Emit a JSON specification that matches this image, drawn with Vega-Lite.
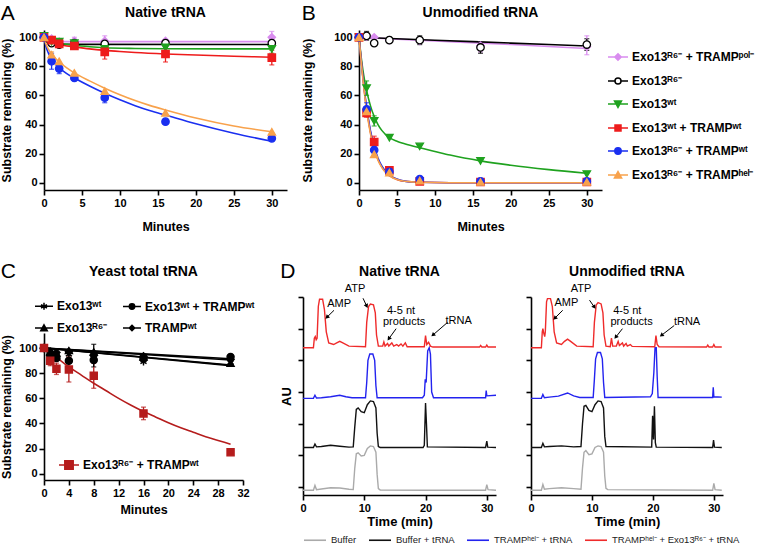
{
"$schema": "https://vega.github.io/schema/vega-lite/v6.json",
"background": "white",
"padding": {"left": 0, "top": 2, "right": 0, "bottom": 0},
"config": {
  "font": "Liberation Sans",
  "view": {"stroke": null},
  "axis": {"grid": false, "domainColor": "#000", "domainWidth": 1.6, "tickColor": "#000", "tickWidth": 1.6, "tickSize": 5, "labelColor": "#000", "labelFontWeight": "bold", "labelFontSize": 11, "labelFont": "Liberation Sans", "labelFlush": false, "labelPadding": 2, "titleFont": "Liberation Sans", "titleFontSize": 12.5, "titleFontWeight": "bold", "titleColor": "#000", "titlePadding": 5},
  "title": {"font": "Liberation Sans", "fontSize": 14, "fontWeight": "bold", "color": "#000"},
  "legend": {"labelFont": "Liberation Sans"}
},
"resolve": {"scale": {"color": "independent", "fill": "independent", "stroke": "independent", "shape": "independent"}},
"spacing": 28,
"vconcat": [
 {"hconcat": [
  {"title": {"text": "A", "anchor": "start", "fontSize": 21, "fontWeight": "normal", "offset": -18, "frame": "bounds"},
   "resolve": {"scale": {"color": "independent", "fill": "independent", "stroke": "independent", "shape": "independent"}},
   "vconcat": [{
    "width": 243, "height": 160,
    "title": {"text": "Native tRNA", "offset": 10},
    "encoding": {
      "x": {"field": "t", "type": "quantitative", "scale": {"domain": [0, 32], "nice": false}, "axis": {"values": [0,5,10,15,20,25,30], "title": "Minutes", "titlePadding": 12}},
      "y": {"field": "y", "type": "quantitative", "scale": {"domain": [-5, 105], "nice": false, "zero": false}, "axis": {"values": [0,20,40,60,80,100], "title": "Substrate remaining (%)"}}
    },
    "layer": [
     {"data": {"name": "aFit"}, "mark": {"type": "line", "strokeWidth": 1.6, "interpolate": "monotone"},
      "encoding": {"color": {"field": "s", "type": "nominal", "scale": {"domain": ["P","R","W","WT","RT","H"], "range": ["#d98cef","#000000","#1fa21f","#ee1c1c","#1a2ff0","#f8a24c"]}, "legend": null}}},
     {"data": {"name": "aErr"}, "mark": {"type": "errorbar", "ticks": true, "thickness": 1.3},
      "encoding": {"y": {"field": "lo", "type": "quantitative", "title": "Substrate remaining (%)"}, "y2": {"field": "hi"},
        "color": {"field": "s", "type": "nominal", "scale": {"domain": ["P","R","W","WT","RT","H"], "range": ["#d98cef","#000000","#1fa21f","#ee1c1c","#1a2ff0","#f8a24c"]}, "legend": null}}},
     {"data": {"name": "aPts"}, "mark": {"type": "point", "filled": true, "size": 55, "strokeWidth": 1.3, "opacity": 1},
      "encoding": {
        "fill": {"condition": [{"test": "datum.s=='P'", "value": "#d98cef"}, {"test": "datum.s=='R'", "value": "#ffffff"}, {"test": "datum.s=='W'", "value": "#1fa21f"}, {"test": "datum.s=='WT'", "value": "#ee1c1c"}, {"test": "datum.s=='RT'", "value": "#1a2ff0"}], "value": "#f8a24c"},
        "stroke": {"condition": [{"test": "datum.s=='P'", "value": "#d98cef"}, {"test": "datum.s=='R'", "value": "#000000"}, {"test": "datum.s=='W'", "value": "#1fa21f"}, {"test": "datum.s=='WT'", "value": "#ee1c1c"}, {"test": "datum.s=='RT'", "value": "#1a2ff0"}], "value": "#f8a24c"},
        "shape": {"condition": [{"test": "datum.s=='P'", "value": "diamond"}, {"test": "datum.s=='W'", "value": "triangle-down"}, {"test": "datum.s=='WT'", "value": "square"}, {"test": "datum.s=='H'", "value": "triangle-up"}], "value": "circle"}}}
    ]
   }]
  },
  {"title": {"text": "B", "anchor": "start", "fontSize": 21, "fontWeight": "normal", "offset": -18, "frame": "bounds"},
   "resolve": {"scale": {"color": "independent", "fill": "independent", "stroke": "independent", "shape": "independent"}},
   "vconcat": [{
    "width": 243, "height": 160,
    "title": {"text": "Unmodified tRNA", "offset": 10},
    "encoding": {
      "x": {"field": "t", "type": "quantitative", "scale": {"domain": [0, 32], "nice": false}, "axis": {"values": [0,5,10,15,20,25,30], "title": "Minutes", "titlePadding": 12}},
      "y": {"field": "y", "type": "quantitative", "scale": {"domain": [-5, 105], "nice": false, "zero": false}, "axis": {"values": [0,20,40,60,80,100], "title": "Substrate remaining (%)", "titlePadding": 19}}
    },
    "layer": [
     {"data": {"name": "bFit"}, "mark": {"type": "line", "strokeWidth": 1.6, "interpolate": "monotone"},
      "encoding": {"color": {"field": "s", "type": "nominal", "scale": {"domain": ["H","RT","WT","W","R","P"], "range": ["#f8a24c","#1a2ff0","#ee1c1c","#1fa21f","#000000","#d98cef"]}, "legend": null}}},
     {"data": {"name": "bErr"}, "mark": {"type": "errorbar", "ticks": true, "thickness": 1.3},
      "encoding": {"y": {"field": "lo", "type": "quantitative", "title": "Substrate remaining (%)"}, "y2": {"field": "hi"},
        "color": {"field": "s", "type": "nominal", "scale": {"domain": ["H","RT","WT","W","R","P"], "range": ["#f8a24c","#1a2ff0","#ee1c1c","#1fa21f","#000000","#d98cef"]}, "legend": null}}},
     {"data": {"name": "bPts"}, "mark": {"type": "point", "filled": true, "size": 55, "strokeWidth": 1.3, "opacity": 1},
      "encoding": {
        "fill": {"condition": [{"test": "datum.s=='P'", "value": "#d98cef"}, {"test": "datum.s=='R'", "value": "#ffffff"}, {"test": "datum.s=='W'", "value": "#1fa21f"}, {"test": "datum.s=='WT'", "value": "#ee1c1c"}, {"test": "datum.s=='RT'", "value": "#1a2ff0"}], "value": "#f8a24c"},
        "stroke": {"condition": [{"test": "datum.s=='P'", "value": "#d98cef"}, {"test": "datum.s=='R'", "value": "#000000"}, {"test": "datum.s=='W'", "value": "#1fa21f"}, {"test": "datum.s=='WT'", "value": "#ee1c1c"}, {"test": "datum.s=='RT'", "value": "#1a2ff0"}], "value": "#f8a24c"},
        "shape": {"condition": [{"test": "datum.s=='P'", "value": "diamond"}, {"test": "datum.s=='W'", "value": "triangle-down"}, {"test": "datum.s=='WT'", "value": "square"}, {"test": "datum.s=='H'", "value": "triangle-up"}], "value": "circle"}}},
     {"data": {"name": "bPts"}, "transform": [{"filter": "false"}], "mark": {"type": "point", "filled": true, "opacity": 1},
      "encoding": {
        "fill": {"field": "s", "type": "nominal", "scale": {"domain": ["P","R","W","WT","RT","H"], "range": ["#d98cef","#ffffff","#1fa21f","#ee1c1c","#1a2ff0","#f8a24c"]},
          "legend": {"title": null, "orient": "none", "legendX": 248, "legendY": 16, "symbolSize": 400, "symbolStrokeWidth": 1.5, "labelFontSize": 12, "labelFontWeight": "bold", "labelColor": "#000", "rowPadding": 6, "labelOffset": 3,
            "labelExpr": "datum.value=='P'?'Exo13ᴿ⁶⁻ + TRAMPᵖᵒˡ⁻':datum.value=='R'?'Exo13ᴿ⁶⁻':datum.value=='W'?'Exo13ʷᵗ':datum.value=='WT'?'Exo13ʷᵗ + TRAMPʷᵗ':datum.value=='RT'?'Exo13ᴿ⁶⁻ + TRAMPʷᵗ':'Exo13ᴿ⁶⁻ + TRAMPʰᵉˡ⁻'"}},
        "stroke": {"field": "s", "type": "nominal", "scale": {"domain": ["P","R","W","WT","RT","H"], "range": ["#d98cef","#000000","#1fa21f","#ee1c1c","#1a2ff0","#f8a24c"]},
          "legend": {"title": null, "orient": "none", "legendX": 248, "legendY": 16, "symbolSize": 400, "symbolStrokeWidth": 1.5, "labelFontSize": 12, "labelFontWeight": "bold", "labelColor": "#000", "rowPadding": 6, "labelOffset": 3,
            "labelExpr": "datum.value=='P'?'Exo13ᴿ⁶⁻ + TRAMPᵖᵒˡ⁻':datum.value=='R'?'Exo13ᴿ⁶⁻':datum.value=='W'?'Exo13ʷᵗ':datum.value=='WT'?'Exo13ʷᵗ + TRAMPʷᵗ':datum.value=='RT'?'Exo13ᴿ⁶⁻ + TRAMPʷᵗ':'Exo13ᴿ⁶⁻ + TRAMPʰᵉˡ⁻'"}},
        "shape": {"field": "s", "type": "nominal", "scale": {"domain": ["P","R","W","WT","RT","H"], "range": [
            "M-1,0H1M0,-0.32L0.32,0L0,0.32L-0.32,0Z",
            "M-1,0H-0.3M0.3,0H1M0.3,0A0.3,0.3 0 1 1 -0.3,0A0.3,0.3 0 1 1 0.3,0Z",
            "M-1,0H1M-0.35,-0.3L0.35,-0.3L0,0.35Z",
            "M-1,0H1M-0.3,-0.3H0.3V0.3H-0.3Z",
            "M-1,0H1M0.32,0A0.32,0.32 0 1 1 -0.32,0A0.32,0.32 0 1 1 0.32,0Z",
            "M-1,0H1M0,-0.35L0.36,0.3L-0.36,0.3Z"]},
          "legend": {"title": null, "orient": "none", "legendX": 248, "legendY": 16, "symbolSize": 400, "symbolStrokeWidth": 1.5, "labelFontSize": 12, "labelFontWeight": "bold", "labelColor": "#000", "rowPadding": 6, "labelOffset": 3,
            "labelExpr": "datum.value=='P'?'Exo13ᴿ⁶⁻ + TRAMPᵖᵒˡ⁻':datum.value=='R'?'Exo13ᴿ⁶⁻':datum.value=='W'?'Exo13ʷᵗ':datum.value=='WT'?'Exo13ʷᵗ + TRAMPʷᵗ':datum.value=='RT'?'Exo13ᴿ⁶⁻ + TRAMPʷᵗ':'Exo13ᴿ⁶⁻ + TRAMPʰᵉˡ⁻'"}}}}
    ]
   }]
  }
 ], "spacing": 14, "resolve": {"scale": {"color": "independent", "fill": "independent", "stroke": "independent", "shape": "independent"}}},
 {"concat": [
  {"title": {"text": "C", "anchor": "start", "fontSize": 21, "fontWeight": "normal", "offset": -18, "frame": "bounds"},
   "resolve": {"scale": {"color": "independent", "fill": "independent", "stroke": "independent", "shape": "independent"}},
   "spacing": 0,
   "vconcat": [
    {"width": 1, "height": 1, "data": {"values": []}, "mark": "point", "encoding": {}},
    {
    "width": 199, "height": 147,
    "title": {"text": "Yeast total tRNA", "offset": 17},
    "encoding": {
      "x": {"field": "t", "type": "quantitative", "scale": {"domain": [0, 32], "nice": false}, "axis": {"values": [0,4,8,12,16,20,24,28,32], "title": "Minutes", "titlePadding": 5}},
      "y": {"field": "y", "type": "quantitative", "scale": {"domain": [-5, 112], "nice": false, "zero": false}, "axis": {"values": [0,20,40,60,80,100], "title": "Substrate remaining (%)"}}
    },
    "layer": [
     {"data": {"name": "cFit"}, "transform": [{"filter": "datum.s != 'RT'"}], "mark": {"type": "line", "strokeWidth": 1.6, "color": "#000"}, "encoding": {"detail": {"field": "s"}}},
     {"data": {"name": "cFit"}, "transform": [{"filter": "datum.s == 'RT'"}], "mark": {"type": "line", "strokeWidth": 1.6, "color": "#b51c1c", "interpolate": "monotone"}},
     {"data": {"name": "cErr"}, "mark": {"type": "errorbar", "ticks": true, "thickness": 1.3},
      "encoding": {"y": {"field": "lo", "type": "quantitative", "title": "Substrate remaining (%)"}, "y2": {"field": "hi"},
        "color": {"field": "s", "type": "nominal", "scale": {"domain": ["W","WT","R","T","RT"], "range": ["#000","#000","#000","#000","#b51c1c"]}, "legend": null}}},
     {"data": {"name": "cPts"}, "mark": {"type": "point", "filled": true, "size": 50, "strokeWidth": 1.4, "opacity": 1},
      "encoding": {
        "fill": {"condition": {"test": "datum.s=='RT'", "value": "#b51c1c"}, "value": "#000"},
        "stroke": {"condition": {"test": "datum.s=='RT'", "value": "#b51c1c"}, "value": "#000"},
        "shape": {"condition": [{"test": "datum.s=='W'", "value": "M0,-1V1M-0.87,-0.5L0.87,0.5M-0.87,0.5L0.87,-0.5"}, {"test": "datum.s=='R'", "value": "triangle-up"}, {"test": "datum.s=='T'", "value": "diamond"}, {"test": "datum.s=='RT'", "value": "square"}], "value": "circle"}}},
     {"data": {"name": "cPts"}, "transform": [{"filter": "false"}], "mark": {"type": "point", "filled": true, "fill": "#000", "opacity": 1},
      "encoding": {
        "stroke": {"field": "s", "type": "nominal", "scale": {"domain": ["W","WT","R","T"], "range": ["#000","#000","#000","#000"]},
          "legend": {"title": null, "orient": "none", "legendX": -10, "legendY": -37, "columns": 2, "direction": "horizontal", "symbolSize": 324, "symbolStrokeWidth": 1.5, "labelFontSize": 12, "labelFontWeight": "bold", "labelColor": "#000", "rowPadding": 5, "columnPadding": 12, "labelOffset": 3,
          "labelExpr": "datum.value=='W'?'Exo13ʷᵗ':datum.value=='WT'?'Exo13ʷᵗ + TRAMPʷᵗ':datum.value=='R'?'Exo13ᴿ⁶⁻':'TRAMPʷᵗ'"}},
        "shape": {"field": "s", "type": "nominal", "scale": {"domain": ["W","WT","R","T"], "range": [
          "M-1,0H1M0,-0.38V0.38M-0.33,-0.19L0.33,0.19M-0.33,0.19L0.33,-0.19",
          "M-1,0H1M0.3,0A0.3,0.3 0 1 1 -0.3,0A0.3,0.3 0 1 1 0.3,0Z",
          "M-1,0H1M0,-0.35L0.36,0.3L-0.36,0.3Z",
          "M-1,0H1M0,-0.3L0.3,0L0,0.3L-0.3,0Z"]},
        "legend": {"title": null, "orient": "none", "legendX": -10, "legendY": -37, "columns": 2, "direction": "horizontal", "symbolSize": 324, "symbolStrokeWidth": 1.5, "labelFontSize": 12, "labelFontWeight": "bold", "labelColor": "#000", "rowPadding": 5, "columnPadding": 12, "labelOffset": 3,
          "labelExpr": "datum.value=='W'?'Exo13ʷᵗ':datum.value=='WT'?'Exo13ʷᵗ + TRAMPʷᵗ':datum.value=='R'?'Exo13ᴿ⁶⁻':'TRAMPʷᵗ'"}}}},
     {"data": {"name": "cPts"}, "transform": [{"filter": "false"}], "mark": {"type": "point", "filled": true, "stroke": "#b51c1c", "opacity": 1, "shape": "M-1,0H1M-0.42,-0.42H0.42V0.42H-0.42Z"},
      "encoding": {"fill": {"field": "s", "type": "nominal", "scale": {"domain": ["RT"], "range": ["#b51c1c"]},
        "legend": {"title": null, "orient": "none", "legendX": 14, "legendY": 121, "symbolType": "M-1,0H1M-0.42,-0.42H0.42V0.42H-0.42Z", "symbolSize": 400, "symbolStrokeWidth": 1.5, "symbolStrokeColor": "#b51c1c", "labelFontSize": 12, "labelFontWeight": "bold", "labelColor": "#000", "labelOffset": 3,
          "labelExpr": "'Exo13ᴿ⁶⁻ + TRAMPʷᵗ'"}}}}
    ]
   }]
  },
  {"title": {"text": "D", "anchor": "start", "fontSize": 21, "fontWeight": "normal", "offset": -18, "frame": "bounds"},
   "resolve": {"scale": {"color": "independent", "fill": "independent", "stroke": "independent", "shape": "independent"}},
   "spacing": 0,
   "vconcat": [
    {"width": 1, "height": 1, "data": {"values": []}, "mark": "point", "encoding": {}},
    {"hconcat": [
    {"width": 193, "height": 198,
     "title": {"text": "Native tRNA", "offset": 4},
     "layer": [
      {"data": {"name": "dN"}, "mark": {"type": "line", "strokeWidth": 1.4},
       "encoding": {
         "x": {"field": "t", "type": "quantitative", "scale": {"domain": [0, 31.5], "nice": false, "zero": false}, "axis": {"values": [0,10,20,30], "title": "Time (min)", "titleFontSize": 13, "titlePadding": 2}},
         "y": {"field": "v", "type": "quantitative", "scale": {"domain": [-0.25, 6], "nice": false, "zero": false}, "axis": {"values": [0,1,2,3,4,5,6], "labels": false, "title": "AU", "titleFontSize": 13, "titlePadding": 4}},
         "color": {"field": "s", "type": "nominal", "scale": {"domain": ["B","BT","TT","TE"], "range": ["#aaaaaa","#111111","#2323ef","#ef2b2b"]},
           "legend": {"title": null, "orient": "bottom", "direction": "horizontal", "symbolType": "stroke", "symbolSize": 484, "symbolStrokeWidth": 1.6, "labelFontSize": 9.5, "labelFontWeight": "normal", "labelColor": "#222", "columnPadding": 8, "labelOffset": 4, "offset": 0,
             "labelExpr": "datum.value=='B'?'Buffer':datum.value=='BT'?'Buffer + tRNA':datum.value=='TT'?'TRAMPʰᵉˡ⁻ + tRNA':'TRAMPʰᵉˡ⁻ + Exo13ᴿ⁶⁻ + tRNA'"}}}},
      {"data": {"name": "nN"}, "mark": {"type": "text", "fontSize": 11, "font": "Liberation Sans", "color": "#000"},
       "encoding": {
         "x": {"field": "t", "type": "quantitative", "scale": {"domain": [0, 31.5], "nice": false, "zero": false}, "axis": {"values": [0,10,20,30], "title": "Time (min)", "titleFontSize": 13, "titlePadding": 2}},
         "y": {"field": "v", "type": "quantitative", "scale": {"domain": [-0.25, 6], "nice": false, "zero": false}, "axis": {"values": [0,1,2,3,4,5,6], "labels": false, "title": "AU", "titleFontSize": 13, "titlePadding": 4}},
         "text": {"field": "label"}}},
      {"data": {"name": "rN"}, "mark": {"type": "rule", "strokeWidth": 1, "color": "#000"},
       "encoding": {
         "x": {"field": "t", "type": "quantitative", "scale": {"domain": [0, 31.5], "nice": false, "zero": false}, "axis": {"values": [0,10,20,30], "title": "Time (min)", "titleFontSize": 13, "titlePadding": 2}},
         "y": {"field": "v", "type": "quantitative", "scale": {"domain": [-0.25, 6], "nice": false, "zero": false}, "axis": {"values": [0,1,2,3,4,5,6], "labels": false, "title": "AU", "titleFontSize": 13, "titlePadding": 4}},
         "x2": {"field": "t2"}, "y2": {"field": "v2"}}},
      {"data": {"name": "rN"}, "transform": [{"calculate": "atan2((datum.t2-datum.t)*6.13,(datum.v2-datum.v)*31.7)*180/PI", "as": "ang"}],
       "mark": {"type": "point", "shape": "triangle-up", "filled": true, "size": 22, "color": "#000", "opacity": 1},
       "encoding": {
         "x": {"field": "t2", "type": "quantitative", "scale": {"domain": [0, 31.5], "nice": false, "zero": false}, "axis": {"values": [0,10,20,30], "title": "Time (min)", "titleFontSize": 13, "titlePadding": 2}},
         "y": {"field": "v2", "type": "quantitative", "scale": {"domain": [-0.25, 6], "nice": false, "zero": false}, "axis": {"values": [0,1,2,3,4,5,6], "labels": false, "title": "AU", "titleFontSize": 13, "titlePadding": 4}},
         "angle": {"field": "ang", "type": "quantitative", "scale": null}}}
     ]},
    {"width": 192, "height": 198,
     "title": {"text": "Unmodified tRNA", "offset": 4},
     "layer": [
      {"data": {"name": "dU"}, "mark": {"type": "line", "strokeWidth": 1.4},
       "encoding": {
         "x": {"field": "t", "type": "quantitative", "scale": {"domain": [0, 31.5], "nice": false, "zero": false}, "axis": {"values": [0,10,20,30], "title": "Time (min)", "titleFontSize": 13, "titlePadding": 2}},
         "y": {"field": "v", "type": "quantitative", "scale": {"domain": [-0.25, 6], "nice": false, "zero": false}, "axis": {"values": [0,1,2,3,4,5,6], "labels": false, "title": null}},
         "color": {"field": "s", "type": "nominal", "scale": {"domain": ["B","BT","TT","TE"], "range": ["#aaaaaa","#111111","#2323ef","#ef2b2b"]},
           "legend": {"title": null, "orient": "bottom", "direction": "horizontal", "symbolType": "stroke", "symbolSize": 484, "symbolStrokeWidth": 1.6, "labelFontSize": 9.5, "labelFontWeight": "normal", "labelColor": "#222", "columnPadding": 8, "labelOffset": 4, "offset": 0,
             "labelExpr": "datum.value=='B'?'Buffer':datum.value=='BT'?'Buffer + tRNA':datum.value=='TT'?'TRAMPʰᵉˡ⁻ + tRNA':'TRAMPʰᵉˡ⁻ + Exo13ᴿ⁶⁻ + tRNA'"}}}},
      {"data": {"name": "nU"}, "mark": {"type": "text", "fontSize": 11, "font": "Liberation Sans", "color": "#000"},
       "encoding": {
         "x": {"field": "t", "type": "quantitative", "scale": {"domain": [0, 31.5], "nice": false, "zero": false}, "axis": {"values": [0,10,20,30], "title": "Time (min)", "titleFontSize": 13, "titlePadding": 2}},
         "y": {"field": "v", "type": "quantitative", "scale": {"domain": [-0.25, 6], "nice": false, "zero": false}, "axis": {"values": [0,1,2,3,4,5,6], "labels": false, "title": null}},
         "text": {"field": "label"}}},
      {"data": {"name": "rU"}, "mark": {"type": "rule", "strokeWidth": 1, "color": "#000"},
       "encoding": {
         "x": {"field": "t", "type": "quantitative", "scale": {"domain": [0, 31.5], "nice": false, "zero": false}, "axis": {"values": [0,10,20,30], "title": "Time (min)", "titleFontSize": 13, "titlePadding": 2}},
         "y": {"field": "v", "type": "quantitative", "scale": {"domain": [-0.25, 6], "nice": false, "zero": false}, "axis": {"values": [0,1,2,3,4,5,6], "labels": false, "title": null}},
         "x2": {"field": "t2"}, "y2": {"field": "v2"}}},
      {"data": {"name": "rU"}, "transform": [{"calculate": "atan2((datum.t2-datum.t)*6.1,(datum.v2-datum.v)*31.7)*180/PI", "as": "ang"}],
       "mark": {"type": "point", "shape": "triangle-up", "filled": true, "size": 22, "color": "#000", "opacity": 1},
       "encoding": {
         "x": {"field": "t2", "type": "quantitative", "scale": {"domain": [0, 31.5], "nice": false, "zero": false}, "axis": {"values": [0,10,20,30], "title": "Time (min)", "titleFontSize": 13, "titlePadding": 2}},
         "y": {"field": "v2", "type": "quantitative", "scale": {"domain": [-0.25, 6], "nice": false, "zero": false}, "axis": {"values": [0,1,2,3,4,5,6], "labels": false, "title": null}},
         "angle": {"field": "ang", "type": "quantitative", "scale": null}}}
     ]}
   ], "spacing": 26}]
  }
 ], "columns": 2, "align": "none", "spacing": 25, "resolve": {"scale": {"color": "independent", "fill": "independent", "stroke": "independent", "shape": "independent"}}}
],
"datasets": {
 "aPts": [
  {"s":"P","t":0,"y":100},{"s":"P","t":1,"y":99},{"s":"P","t":2,"y":97},{"s":"P","t":4,"y":97.5},{"s":"P","t":8,"y":97.5},{"s":"P","t":16,"y":97.5},{"s":"P","t":30,"y":100},
  {"s":"R","t":0,"y":100},{"s":"R","t":1,"y":96},{"s":"R","t":2,"y":95},{"s":"R","t":4,"y":96},{"s":"R","t":8,"y":95.5},{"s":"R","t":16,"y":96},{"s":"R","t":30,"y":96},
  {"s":"W","t":0,"y":101},{"s":"W","t":1,"y":97},{"s":"W","t":2,"y":97},{"s":"W","t":4,"y":96},{"s":"W","t":8,"y":92},{"s":"W","t":16,"y":93},{"s":"W","t":30,"y":92},
  {"s":"WT","t":0,"y":100},{"s":"WT","t":1,"y":98},{"s":"WT","t":2,"y":95.5},{"s":"WT","t":4,"y":94},{"s":"WT","t":8,"y":90},{"s":"WT","t":16,"y":88.5},{"s":"WT","t":30,"y":86},
  {"s":"RT","t":0,"y":100},{"s":"RT","t":1,"y":83.5},{"s":"RT","t":2,"y":78.5},{"s":"RT","t":4,"y":72},{"s":"RT","t":8,"y":58.5},{"s":"RT","t":16,"y":42},{"s":"RT","t":30,"y":30.5},
  {"s":"H","t":0,"y":100},{"s":"H","t":1,"y":88},{"s":"H","t":2,"y":83.5},{"s":"H","t":4,"y":75.5},{"s":"H","t":8,"y":63},{"s":"H","t":16,"y":48},{"s":"H","t":30,"y":35}
 ],
 "aErr": [
  {"s":"P","t":4,"lo":95,"hi":100},{"s":"P","t":8,"lo":94,"hi":101},{"s":"P","t":30,"lo":96,"hi":104},
  {"s":"R","t":8,"lo":93,"hi":98},{"s":"R","t":30,"lo":93,"hi":99},
  {"s":"W","t":16,"lo":90,"hi":96},{"s":"W","t":30,"lo":89,"hi":95},
  {"s":"WT","t":8,"lo":85,"hi":95},{"s":"WT","t":16,"lo":83,"hi":93},{"s":"WT","t":30,"lo":81,"hi":91},
  {"s":"RT","t":1,"lo":78,"hi":89},{"s":"RT","t":2,"lo":75,"hi":82},{"s":"RT","t":8,"lo":55,"hi":62},
  {"s":"H","t":1,"lo":86,"hi":90}
 ],
 "aFit": [
  {"s":"P","t":0,"y":100},{"s":"P","t":0.3,"y":98.5},{"s":"P","t":0.6,"y":97.5},{"s":"P","t":1,"y":97},{"s":"P","t":30,"y":97},
  {"s":"R","t":0,"y":100},{"s":"R","t":0.3,"y":97},{"s":"R","t":0.6,"y":95.6},{"s":"R","t":1,"y":95.1},{"s":"R","t":30,"y":95},
  {"s":"W","t":0,"y":100},{"s":"W","t":0.5,"y":98.5},{"s":"W","t":1,"y":97.5},{"s":"W","t":2,"y":96},{"s":"W","t":4,"y":94.5},{"s":"W","t":6,"y":93.5},{"s":"W","t":8,"y":92.8},{"s":"W","t":12,"y":92.3},{"s":"W","t":16,"y":92.1},{"s":"W","t":30,"y":92},
  {"s":"WT","t":0,"y":100},{"s":"WT","t":0.5,"y":98},{"s":"WT","t":1,"y":96.6},{"s":"WT","t":2,"y":95},{"s":"WT","t":3,"y":94},{"s":"WT","t":4,"y":93.3},{"s":"WT","t":6,"y":92},{"s":"WT","t":8,"y":91},{"s":"WT","t":10,"y":90.2},{"s":"WT","t":12,"y":89.5},{"s":"WT","t":16,"y":88.5},{"s":"WT","t":20,"y":87.8},{"s":"WT","t":25,"y":87},{"s":"WT","t":30,"y":86.3},
  {"s":"RT","t":0,"y":100},{"s":"RT","t":0.25,"y":94},{"s":"RT","t":0.5,"y":90},{"s":"RT","t":1,"y":85},{"s":"RT","t":1.5,"y":81.5},{"s":"RT","t":2,"y":79},{"s":"RT","t":3,"y":75},{"s":"RT","t":4,"y":72},{"s":"RT","t":6,"y":66.5},{"s":"RT","t":8,"y":61.5},{"s":"RT","t":10,"y":57},{"s":"RT","t":12,"y":53},{"s":"RT","t":14,"y":49.5},{"s":"RT","t":16,"y":46.5},{"s":"RT","t":20,"y":40.5},{"s":"RT","t":25,"y":34},{"s":"RT","t":30,"y":28.5},
  {"s":"H","t":0,"y":100},{"s":"H","t":0.25,"y":95.5},{"s":"H","t":0.5,"y":92.5},{"s":"H","t":1,"y":88.5},{"s":"H","t":1.5,"y":85.5},{"s":"H","t":2,"y":83},{"s":"H","t":3,"y":79},{"s":"H","t":4,"y":75.5},{"s":"H","t":6,"y":70},{"s":"H","t":8,"y":65},{"s":"H","t":10,"y":60.5},{"s":"H","t":12,"y":56.5},{"s":"H","t":14,"y":53},{"s":"H","t":16,"y":50},{"s":"H","t":20,"y":44.5},{"s":"H","t":25,"y":39},{"s":"H","t":30,"y":35}
 ],
 "bPts": [
  {"s":"P","t":0,"y":100},{"s":"P","t":1,"y":100.5},{"s":"P","t":2,"y":100},{"s":"P","t":4,"y":98},{"s":"P","t":8,"y":97.5},{"s":"P","t":16,"y":94},{"s":"P","t":30,"y":93.5},
  {"s":"R","t":0,"y":100},{"s":"R","t":1,"y":101},{"s":"R","t":2,"y":96},{"s":"R","t":4,"y":98},{"s":"R","t":8,"y":98},{"s":"R","t":16,"y":93},{"s":"R","t":30,"y":95},
  {"s":"W","t":0,"y":100},{"s":"W","t":1,"y":65},{"s":"W","t":2,"y":42.5},{"s":"W","t":4,"y":31},{"s":"W","t":8,"y":25},{"s":"W","t":16,"y":15},{"s":"W","t":30,"y":6},
  {"s":"WT","t":0,"y":100},{"s":"WT","t":1,"y":48},{"s":"WT","t":2,"y":28},{"s":"WT","t":4,"y":8.5},{"s":"WT","t":8,"y":1},{"s":"WT","t":16,"y":0.5},{"s":"WT","t":30,"y":0.5},
  {"s":"RT","t":0,"y":100},{"s":"RT","t":1,"y":50.5},{"s":"RT","t":2,"y":22.5},{"s":"RT","t":4,"y":7.5},{"s":"RT","t":8,"y":2.5},{"s":"RT","t":16,"y":1},{"s":"RT","t":30,"y":1},
  {"s":"H","t":0,"y":100},{"s":"H","t":1,"y":49},{"s":"H","t":2,"y":19.5},{"s":"H","t":4,"y":7},{"s":"H","t":8,"y":1.5},{"s":"H","t":16,"y":0.5},{"s":"H","t":30,"y":0.5}
 ],
 "bErr": [
  {"s":"P","t":16,"lo":90,"hi":97},{"s":"P","t":30,"lo":88,"hi":101},
  {"s":"R","t":1,"lo":98,"hi":104},{"s":"R","t":4,"lo":96,"hi":100},{"s":"R","t":8,"lo":95,"hi":101},{"s":"R","t":16,"lo":89,"hi":97},{"s":"R","t":30,"lo":91,"hi":99},
  {"s":"W","t":1,"lo":60,"hi":70},{"s":"W","t":2,"lo":39,"hi":46},
  {"s":"WT","t":1,"lo":45,"hi":51},{"s":"WT","t":2,"lo":24,"hi":32},
  {"s":"RT","t":1,"lo":46,"hi":55},{"s":"RT","t":2,"lo":20,"hi":25},
  {"s":"H","t":1,"lo":46,"hi":52}
 ],
 "bFit": [
  {"s":"P","t":0,"y":100},{"s":"P","t":10,"y":97.5},{"s":"P","t":20,"y":95},{"s":"P","t":30,"y":92.3},
  {"s":"R","t":0,"y":100},{"s":"R","t":10,"y":98},{"s":"R","t":20,"y":96},{"s":"R","t":30,"y":94},
  {"s":"W","t":0,"y":100},{"s":"W","t":0.25,"y":88},{"s":"W","t":0.5,"y":78},{"s":"W","t":0.75,"y":70},{"s":"W","t":1,"y":63.5},{"s":"W","t":1.5,"y":53},{"s":"W","t":2,"y":45.5},{"s":"W","t":2.5,"y":40},{"s":"W","t":3,"y":36},{"s":"W","t":4,"y":31},{"s":"W","t":5,"y":28.5},{"s":"W","t":6,"y":26.8},{"s":"W","t":8,"y":24},{"s":"W","t":10,"y":21.5},{"s":"W","t":12,"y":19},{"s":"W","t":16,"y":15},{"s":"W","t":20,"y":12},{"s":"W","t":25,"y":9},{"s":"W","t":30,"y":6.5},
  {"s":"WT","t":0,"y":100},{"s":"WT","t":0.25,"y":86},{"s":"WT","t":0.5,"y":73},{"s":"WT","t":0.75,"y":61},{"s":"WT","t":1,"y":51},{"s":"WT","t":1.25,"y":42.5},{"s":"WT","t":1.5,"y":35},{"s":"WT","t":2,"y":24},{"s":"WT","t":2.5,"y":16},{"s":"WT","t":3,"y":11},{"s":"WT","t":3.5,"y":7.5},{"s":"WT","t":4,"y":5},{"s":"WT","t":5,"y":2.3},{"s":"WT","t":6,"y":1},{"s":"WT","t":8,"y":0.3},{"s":"WT","t":12,"y":0},{"s":"WT","t":30,"y":0},
  {"s":"RT","t":0,"y":100},{"s":"RT","t":0.25,"y":86.5},{"s":"RT","t":0.5,"y":73.5},{"s":"RT","t":0.75,"y":62},{"s":"RT","t":1,"y":52},{"s":"RT","t":1.25,"y":43.5},{"s":"RT","t":1.5,"y":36},{"s":"RT","t":2,"y":25},{"s":"RT","t":2.5,"y":17},{"s":"RT","t":3,"y":11.5},{"s":"RT","t":3.5,"y":7.8},{"s":"RT","t":4,"y":5.3},{"s":"RT","t":5,"y":2.5},{"s":"RT","t":6,"y":1.1},{"s":"RT","t":8,"y":0.3},{"s":"RT","t":12,"y":0},{"s":"RT","t":30,"y":0},
  {"s":"H","t":0,"y":100},{"s":"H","t":0.25,"y":85.5},{"s":"H","t":0.5,"y":72},{"s":"H","t":0.75,"y":60},{"s":"H","t":1,"y":50},{"s":"H","t":1.25,"y":41.5},{"s":"H","t":1.5,"y":34},{"s":"H","t":2,"y":23},{"s":"H","t":2.5,"y":15.5},{"s":"H","t":3,"y":10.5},{"s":"H","t":3.5,"y":7},{"s":"H","t":4,"y":4.8},{"s":"H","t":5,"y":2.2},{"s":"H","t":6,"y":1},{"s":"H","t":8,"y":0.3},{"s":"H","t":12,"y":0},{"s":"H","t":30,"y":0}
 ],
 "cPts": [
  {"s":"W","t":0,"y":100},{"s":"W","t":1,"y":95},{"s":"W","t":2,"y":94},{"s":"W","t":4,"y":95},{"s":"W","t":8,"y":92},{"s":"W","t":16,"y":89},{"s":"W","t":30,"y":88.5},
  {"s":"R","t":0,"y":100},{"s":"R","t":1,"y":97},{"s":"R","t":2,"y":96},{"s":"R","t":4,"y":98},{"s":"R","t":8,"y":97},{"s":"R","t":16,"y":93},{"s":"R","t":30,"y":88},
  {"s":"WT","t":0,"y":100},{"s":"WT","t":1,"y":94},{"s":"WT","t":2,"y":92},{"s":"WT","t":4,"y":90},{"s":"WT","t":8,"y":90.5},{"s":"WT","t":16,"y":91.5},{"s":"WT","t":30,"y":93},
  {"s":"T","t":0,"y":100},{"s":"T","t":1,"y":97},{"s":"T","t":2,"y":96.5},{"s":"T","t":4,"y":97},{"s":"T","t":8,"y":94},{"s":"T","t":16,"y":93.5},{"s":"T","t":30,"y":91},
  {"s":"RT","t":0,"y":100},{"s":"RT","t":1,"y":90},{"s":"RT","t":2,"y":83.5},{"s":"RT","t":4,"y":83},{"s":"RT","t":8,"y":78},{"s":"RT","t":16,"y":48},{"s":"RT","t":30,"y":17}
 ],
 "cErr": [
  {"s":"RT","t":1,"lo":86,"hi":94},{"s":"RT","t":2,"lo":79,"hi":88},{"s":"RT","t":4,"lo":73,"hi":93},{"s":"RT","t":8,"lo":68,"hi":88},{"s":"RT","t":16,"lo":43,"hi":53},
  {"s":"T","t":8,"lo":85,"hi":103},{"s":"W","t":1,"lo":93,"hi":97},{"s":"R","t":30,"lo":86,"hi":89}
 ],
 "cFit": [
  {"s":"W","t":0,"y":100},{"s":"W","t":30,"y":86.5},
  {"s":"R","t":0,"y":100},{"s":"R","t":30,"y":86},
  {"s":"WT","t":0,"y":100},{"s":"WT","t":30,"y":90.5},
  {"s":"T","t":0,"y":100},{"s":"T","t":30,"y":91.5},
  {"s":"RT","t":0,"y":100},{"s":"RT","t":2,"y":92.5},{"s":"RT","t":4,"y":85},{"s":"RT","t":6,"y":78.5},{"s":"RT","t":8,"y":72},{"s":"RT","t":10,"y":66},{"s":"RT","t":12,"y":60},{"s":"RT","t":14,"y":54.5},{"s":"RT","t":16,"y":49.5},{"s":"RT","t":18,"y":45},{"s":"RT","t":20,"y":40.5},{"s":"RT","t":22,"y":36.5},{"s":"RT","t":24,"y":33},{"s":"RT","t":26,"y":29.5},{"s":"RT","t":28,"y":26.5},{"s":"RT","t":30,"y":23.5}
 ],
 "dN": [
  {"s":"B","t":0,"v":-0.1},{"s":"B","t":1.7,"v":-0.1},{"s":"B","t":1.95,"v":0.05},{"s":"B","t":2.2,"v":-0.08},{"s":"B","t":3,"v":-0.06},{"s":"B","t":4.5,"v":-0.02},{"s":"B","t":6,"v":-0.03},{"s":"B","t":7.5,"v":-0.07},{"s":"B","t":8.2,"v":-0.08},{"s":"B","t":8.45,"v":0.6},{"s":"B","t":8.7,"v":1.05},{"s":"B","t":9,"v":1.08},{"s":"B","t":9.5,"v":0.98},{"s":"B","t":10,"v":1},{"s":"B","t":10.5,"v":1.22},{"s":"B","t":11,"v":1.3},{"s":"B","t":11.5,"v":1.28},{"s":"B","t":11.9,"v":1.1},{"s":"B","t":12.1,"v":0.4},{"s":"B","t":12.3,"v":-0.05},{"s":"B","t":12.6,"v":-0.09},{"s":"B","t":20,"v":-0.1},{"s":"B","t":29.8,"v":-0.1},{"s":"B","t":30,"v":0.08},{"s":"B","t":30.2,"v":-0.08},{"s":"B","t":31.5,"v":-0.1},
  {"s":"BT","t":0,"v":1.25},{"s":"BT","t":1.7,"v":1.25},{"s":"BT","t":1.95,"v":1.36},{"s":"BT","t":2.2,"v":1.27},{"s":"BT","t":3,"v":1.28},{"s":"BT","t":4.5,"v":1.32},{"s":"BT","t":6,"v":1.29},{"s":"BT","t":7.5,"v":1.26},{"s":"BT","t":8.2,"v":1.27},{"s":"BT","t":8.45,"v":1.9},{"s":"BT","t":8.7,"v":2.45},{"s":"BT","t":9,"v":2.5},{"s":"BT","t":9.5,"v":2.38},{"s":"BT","t":10,"v":2.35},{"s":"BT","t":10.5,"v":2.6},{"s":"BT","t":11,"v":2.72},{"s":"BT","t":11.5,"v":2.7},{"s":"BT","t":11.9,"v":2.5},{"s":"BT","t":12.1,"v":1.7},{"s":"BT","t":12.3,"v":1.28},{"s":"BT","t":12.6,"v":1.25},{"s":"BT","t":19.6,"v":1.25},{"s":"BT","t":19.8,"v":1.32},{"s":"BT","t":20,"v":2.65},{"s":"BT","t":20.15,"v":2.0},{"s":"BT","t":20.3,"v":1.27},{"s":"BT","t":29.8,"v":1.25},{"s":"BT","t":30,"v":1.45},{"s":"BT","t":30.15,"v":1.26},{"s":"BT","t":31.5,"v":1.25},
  {"s":"TT","t":0,"v":2.8},{"s":"TT","t":1.7,"v":2.8},{"s":"TT","t":1.95,"v":2.9},{"s":"TT","t":2.2,"v":2.81},{"s":"TT","t":3,"v":2.82},{"s":"TT","t":4.5,"v":2.85},{"s":"TT","t":6,"v":2.9},{"s":"TT","t":7,"v":2.85},{"s":"TT","t":8,"v":2.82},{"s":"TT","t":10.2,"v":2.82},{"s":"TT","t":10.4,"v":3.3},{"s":"TT","t":10.6,"v":4.0},{"s":"TT","t":10.9,"v":4.2},{"s":"TT","t":11.4,"v":4.2},{"s":"TT","t":11.7,"v":4.0},{"s":"TT","t":11.9,"v":3.2},{"s":"TT","t":12.1,"v":2.82},{"s":"TT","t":19.5,"v":2.82},{"s":"TT","t":19.8,"v":2.9},{"s":"TT","t":19.95,"v":3.4},{"s":"TT","t":20.1,"v":3.3},{"s":"TT","t":20.35,"v":4.3},{"s":"TT","t":20.6,"v":4.4},{"s":"TT","t":20.8,"v":4.2},{"s":"TT","t":21,"v":3.0},{"s":"TT","t":21.3,"v":2.82},{"s":"TT","t":29.8,"v":2.82},{"s":"TT","t":29.9,"v":3.05},{"s":"TT","t":30,"v":2.88},{"s":"TT","t":31.5,"v":2.9},
  {"s":"TE","t":0,"v":4.4},{"s":"TE","t":1.7,"v":4.4},{"s":"TE","t":1.85,"v":4.7},{"s":"TE","t":2,"v":4.75},{"s":"TE","t":2.15,"v":4.65},{"s":"TE","t":2.3,"v":4.7},{"s":"TE","t":2.5,"v":5.7},{"s":"TE","t":2.7,"v":5.93},{"s":"TE","t":3.2,"v":5.93},{"s":"TE","t":3.5,"v":5.6},{"s":"TE","t":3.8,"v":4.9},{"s":"TE","t":4.2,"v":4.55},{"s":"TE","t":5,"v":4.5},{"s":"TE","t":5.5,"v":4.55},{"s":"TE","t":6,"v":4.6},{"s":"TE","t":6.5,"v":4.55},{"s":"TE","t":7.5,"v":4.45},{"s":"TE","t":10.2,"v":4.43},{"s":"TE","t":10.4,"v":5.2},{"s":"TE","t":10.7,"v":5.7},{"s":"TE","t":11,"v":5.78},{"s":"TE","t":11.5,"v":5.75},{"s":"TE","t":11.8,"v":5.5},{"s":"TE","t":12,"v":4.8},{"s":"TE","t":12.3,"v":4.45},{"s":"TE","t":13,"v":4.45},{"s":"TE","t":13.2,"v":4.58},{"s":"TE","t":13.4,"v":4.45},{"s":"TE","t":13.8,"v":4.53},{"s":"TE","t":14,"v":4.45},{"s":"TE","t":14.5,"v":4.55},{"s":"TE","t":14.8,"v":4.45},{"s":"TE","t":15.3,"v":4.5},{"s":"TE","t":15.6,"v":4.45},{"s":"TE","t":16,"v":4.52},{"s":"TE","t":16.3,"v":4.45},{"s":"TE","t":16.7,"v":4.55},{"s":"TE","t":17,"v":4.43},{"s":"TE","t":19.8,"v":4.43},{"s":"TE","t":20,"v":4.78},{"s":"TE","t":20.2,"v":4.5},{"s":"TE","t":20.5,"v":4.57},{"s":"TE","t":20.8,"v":4.45},{"s":"TE","t":21.2,"v":4.42},{"s":"TE","t":28.8,"v":4.42},{"s":"TE","t":29,"v":4.47},{"s":"TE","t":29.2,"v":4.42},{"s":"TE","t":29.8,"v":4.42},{"s":"TE","t":30,"v":4.48},{"s":"TE","t":30.2,"v":4.42},{"s":"TE","t":31.5,"v":4.42}
 ],
 "dU": [
  {"s":"B","t":0,"v":-0.1},{"s":"B","t":1.7,"v":-0.1},{"s":"B","t":1.95,"v":0.08},{"s":"B","t":2.2,"v":-0.07},{"s":"B","t":3,"v":-0.05},{"s":"B","t":5,"v":-0.02},{"s":"B","t":7,"v":-0.05},{"s":"B","t":8.2,"v":-0.07},{"s":"B","t":8.45,"v":0.6},{"s":"B","t":8.7,"v":1.1},{"s":"B","t":9,"v":1.15},{"s":"B","t":9.5,"v":1.02},{"s":"B","t":10,"v":1.05},{"s":"B","t":10.5,"v":1.25},{"s":"B","t":11,"v":1.3},{"s":"B","t":11.5,"v":1.28},{"s":"B","t":11.9,"v":1.1},{"s":"B","t":12.1,"v":0.35},{"s":"B","t":12.3,"v":-0.04},{"s":"B","t":12.6,"v":-0.08},{"s":"B","t":29.8,"v":-0.1},{"s":"B","t":30,"v":0.12},{"s":"B","t":30.2,"v":-0.08},{"s":"B","t":31.3,"v":-0.1},
  {"s":"BT","t":0,"v":1.25},{"s":"BT","t":1.7,"v":1.25},{"s":"BT","t":1.95,"v":1.38},{"s":"BT","t":2.2,"v":1.27},{"s":"BT","t":3,"v":1.28},{"s":"BT","t":5,"v":1.3},{"s":"BT","t":7,"v":1.27},{"s":"BT","t":8.2,"v":1.28},{"s":"BT","t":8.45,"v":2.0},{"s":"BT","t":8.7,"v":2.55},{"s":"BT","t":9,"v":2.58},{"s":"BT","t":9.5,"v":2.42},{"s":"BT","t":10,"v":2.38},{"s":"BT","t":10.5,"v":2.6},{"s":"BT","t":11,"v":2.72},{"s":"BT","t":11.5,"v":2.7},{"s":"BT","t":11.9,"v":2.5},{"s":"BT","t":12.1,"v":1.6},{"s":"BT","t":12.3,"v":1.28},{"s":"BT","t":19.8,"v":1.26},{"s":"BT","t":19.95,"v":2.25},{"s":"BT","t":20.1,"v":1.5},{"s":"BT","t":20.25,"v":2.55},{"s":"BT","t":20.4,"v":1.4},{"s":"BT","t":20.55,"v":1.26},{"s":"BT","t":29.8,"v":1.25},{"s":"BT","t":29.95,"v":1.48},{"s":"BT","t":30.1,"v":1.26},{"s":"BT","t":31.3,"v":1.25},
  {"s":"TT","t":0,"v":2.8},{"s":"TT","t":1.7,"v":2.8},{"s":"TT","t":1.95,"v":2.92},{"s":"TT","t":2.2,"v":2.82},{"s":"TT","t":3,"v":2.84},{"s":"TT","t":4.5,"v":2.87},{"s":"TT","t":6,"v":2.97},{"s":"TT","t":7,"v":2.88},{"s":"TT","t":8,"v":2.83},{"s":"TT","t":10.2,"v":2.83},{"s":"TT","t":10.4,"v":3.4},{"s":"TT","t":10.6,"v":4.05},{"s":"TT","t":10.9,"v":4.25},{"s":"TT","t":11.4,"v":4.25},{"s":"TT","t":11.7,"v":4.05},{"s":"TT","t":11.9,"v":3.3},{"s":"TT","t":12.1,"v":2.83},{"s":"TT","t":19.6,"v":2.85},{"s":"TT","t":19.9,"v":2.95},{"s":"TT","t":20.15,"v":3.6},{"s":"TT","t":20.35,"v":4.4},{"s":"TT","t":20.55,"v":4.4},{"s":"TT","t":20.7,"v":3.5},{"s":"TT","t":20.85,"v":2.83},{"s":"TT","t":29.8,"v":2.83},{"s":"TT","t":29.9,"v":3.15},{"s":"TT","t":30,"v":2.85},{"s":"TT","t":31.3,"v":2.84},
  {"s":"TE","t":0,"v":4.4},{"s":"TE","t":1.7,"v":4.4},{"s":"TE","t":1.85,"v":4.9},{"s":"TE","t":1.95,"v":5.0},{"s":"TE","t":2.1,"v":4.85},{"s":"TE","t":2.25,"v":4.75},{"s":"TE","t":2.35,"v":4.9},{"s":"TE","t":2.55,"v":5.85},{"s":"TE","t":2.7,"v":5.95},{"s":"TE","t":3.2,"v":5.95},{"s":"TE","t":3.5,"v":5.7},{"s":"TE","t":3.8,"v":4.9},{"s":"TE","t":4.2,"v":4.55},{"s":"TE","t":5,"v":4.5},{"s":"TE","t":5.5,"v":4.6},{"s":"TE","t":6,"v":4.67},{"s":"TE","t":6.5,"v":4.6},{"s":"TE","t":7.5,"v":4.45},{"s":"TE","t":10.2,"v":4.43},{"s":"TE","t":10.4,"v":5.2},{"s":"TE","t":10.7,"v":5.75},{"s":"TE","t":11,"v":5.82},{"s":"TE","t":11.5,"v":5.78},{"s":"TE","t":11.8,"v":5.5},{"s":"TE","t":12,"v":4.8},{"s":"TE","t":12.3,"v":4.45},{"s":"TE","t":13,"v":4.43},{"s":"TE","t":13.2,"v":4.7},{"s":"TE","t":13.4,"v":4.45},{"s":"TE","t":14,"v":4.45},{"s":"TE","t":14.3,"v":4.6},{"s":"TE","t":14.5,"v":4.47},{"s":"TE","t":15,"v":4.55},{"s":"TE","t":15.2,"v":4.45},{"s":"TE","t":15.6,"v":4.53},{"s":"TE","t":15.8,"v":4.45},{"s":"TE","t":16.3,"v":4.5},{"s":"TE","t":16.6,"v":4.44},{"s":"TE","t":20.3,"v":4.43},{"s":"TE","t":20.5,"v":4.78},{"s":"TE","t":20.7,"v":4.5},{"s":"TE","t":21,"v":4.43},{"s":"TE","t":28.8,"v":4.42},{"s":"TE","t":29,"v":4.48},{"s":"TE","t":29.2,"v":4.42},{"s":"TE","t":29.8,"v":4.42},{"s":"TE","t":30,"v":4.5},{"s":"TE","t":30.2,"v":4.42},{"s":"TE","t":31.3,"v":4.42}
 ],
 "nN": [
  {"label":"AMP","t":5.9,"v":5.77},{"label":"ATP","t":8.5,"v":6.25},{"label":"4-5 nt","t":16.0,"v":5.55},{"label":"products","t":16.5,"v":5.2},{"label":"tRNA","t":25.4,"v":5.24}
 ],
 "rN": [
  {"t":5.06,"v":5.58,"t2":3.9,"v2":5.36},{"t":9.8,"v":5.96,"t2":10.4,"v2":5.71},{"t":15.2,"v":5.0,"t2":14.0,"v2":4.68},{"t":23.6,"v":5.2,"t2":21.2,"v2":4.8}
 ],
 "nU": [
  {"label":"AMP","t":5.8,"v":5.8},{"label":"ATP","t":8.2,"v":6.25},{"label":"4-5 nt","t":15.8,"v":5.55},{"label":"products","t":16.5,"v":5.2},{"label":"tRNA","t":25.6,"v":5.2}
 ],
 "rU": [
  {"t":5.2,"v":5.58,"t2":3.9,"v2":5.33},{"t":9.6,"v":5.9,"t2":10.4,"v2":5.68},{"t":15.0,"v":5.0,"t2":13.9,"v2":4.73},{"t":23.5,"v":5.1,"t2":21.4,"v2":4.79}
 ]
}
}
